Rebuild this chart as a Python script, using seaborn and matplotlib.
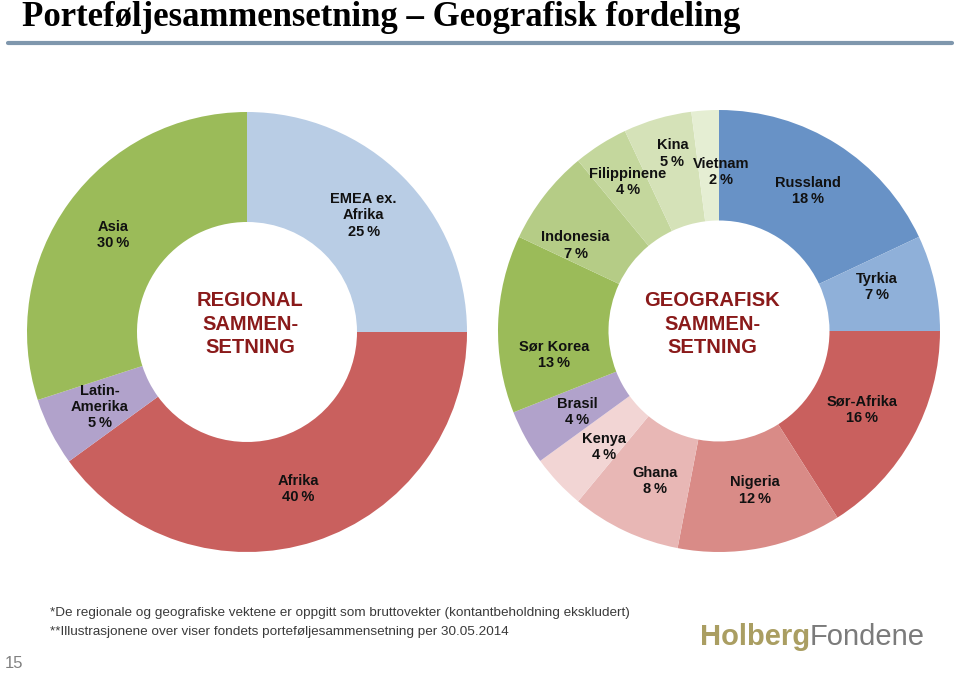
import numpy as np
import matplotlib
matplotlib.use("Agg")
import matplotlib.pyplot as plt
import seaborn as sns

sns.set_theme(style="white")
plt.rcParams['font.family'] = ['Liberation Sans', 'DejaVu Sans']

# ---------------- data ----------------
title = "Porteføljesammensetning – Geografisk fordeling"

regional_labels = ["EMEA ex.\nAfrika", "Afrika", "Latin-\nAmerika", "Asia"]
regional_values = [25, 40, 5, 30]
regional_colors = ["#b9cde5", "#c9605e", "#b1a2cb", "#9bbb59"]
regional_center = "REGIONAL\nSAMMEN-\nSETNING"

geo_labels = ["Russland", "Tyrkia", "Sør-Afrika", "Nigeria", "Ghana", "Kenya",
              "Brasil", "Sør Korea", "Indonesia", "Filippinene", "Kina", "Vietnam"]
geo_values = [18, 7, 16, 12, 8, 4, 4, 13, 7, 4, 5, 2]
geo_colors = ["#6892c6", "#8fb0d9", "#c9605e", "#d98b87", "#e8b7b5", "#f2d5d4",
              "#b1a2cb", "#9bbb59", "#b5cc86", "#c4d79d", "#d5e2b8", "#e5eed3"]
geo_center = "GEOGRAFISK\nSAMMEN-\nSETNING"

# label placement tweaks (angle offset in degrees, radial position)
geo_dtheta = [0, 3, 0, 2, 2, 2, 1, 10, 7, -1, -1.5, -4.5]
geo_radius = [0.75, 0.74, 0.74, 0.74, 0.74, 0.74, 0.74, 0.755, 0.755, 0.79, 0.83, 0.72]

footnotes = ["*De regionale og geografiske vektene er oppgitt som bruttovekter (kontantbeholdning ekskludert)",
             "**Illustrasjonene over viser fondets porteføljesammensetning per 30.05.2014"]
page_number = "15"

# ---------------- figure ----------------
W, H = 960, 674
fig = plt.figure(figsize=(W / 100, H / 100), dpi=100)
fig.patch.set_facecolor("white")


def donut(cx, cy, r, labels, values, colors, center_text, dtheta=None, rads=None,
          center_dx=0.0, center_dy=0.0):
    ax = fig.add_axes([(cx - r) / W, (H - cy - r) / H, 2 * r / W, 2 * r / H])
    wedges, _ = ax.pie(values, colors=colors, startangle=90, counterclock=False,
                       radius=1.0, wedgeprops=dict(width=0.5, linewidth=0, edgecolor="none"))
    ax.set_xlim(-1, 1)
    ax.set_ylim(-1, 1)
    ax.set_aspect("equal")
    ax.axis("off")
    for i, (w, lab, val) in enumerate(zip(wedges, labels, values)):
        ang = (w.theta1 + w.theta2) / 2.0
        if dtheta is not None:
            ang += dtheta[i]
        rr = 0.75 if rads is None else rads[i]
        x = rr * np.cos(np.deg2rad(ang))
        y = rr * np.sin(np.deg2rad(ang))
        ax.text(x, y, f"{lab}\n{val}\u2009%", ha="center", va="center",
                fontsize=10.5, fontweight="bold", color="#111111", linespacing=1.2)
    ax.text(center_dx, center_dy, center_text, ha="center", va="center", fontsize=14.5,
            fontweight="bold", color="#8a1a1a", linespacing=1.3)
    return ax


donut(247, 332, 220, regional_labels, regional_values, regional_colors, regional_center,
      center_dx=0.015, center_dy=0.035)
donut(719, 331, 221, geo_labels, geo_values, geo_colors, geo_center,
      dtheta=geo_dtheta, rads=geo_radius, center_dx=-0.03, center_dy=0.03)

# title and rule
fig.text(22 / W, 1 - 26 / H, title, ha="left", va="baseline", fontsize=25,
         fontweight="bold", family=['Liberation Serif', 'DejaVu Serif'], color="black")
fig.add_artist(plt.Line2D([8 / W, 952 / W], [1 - 42.5 / H, 1 - 42.5 / H],
                          color="#7f97ad", linewidth=3, transform=fig.transFigure))

# footnotes
fig.text(50 / W, 1 - 613 / H, footnotes[0], ha="left", va="center", fontsize=9.7, color="#3a3a3a")
fig.text(50 / W, 1 - 632 / H, footnotes[1], ha="left", va="center", fontsize=9.7, color="#3a3a3a")
fig.text(5 / W, 1 - 663 / H, page_number, ha="left", va="center", fontsize=12, color="#808080")

# logo
t1 = fig.text(700 / W, 1 - 637 / H, "Holberg", ha="left", va="center", fontsize=21,
              fontweight="bold", color="#aa9e62")
fig.canvas.draw()
bb = t1.get_window_extent()
fig.text(bb.x1 / W, 1 - 637 / H, "Fondene", ha="left", va="center", fontsize=21,
         color="#7b7b7b")

fig.savefig("out.png", dpi=100, facecolor="white")
